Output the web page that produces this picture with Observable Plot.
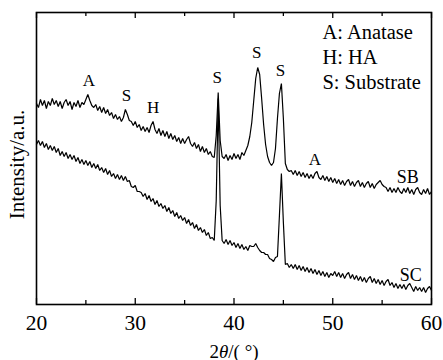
<!DOCTYPE html>
<html><head><meta charset="utf-8">
<script src="https://cdn.jsdelivr.net/npm/d3@7"></script>
<script src="https://cdn.jsdelivr.net/npm/@observablehq/plot@0.6"></script>
<style>
body{margin:0;background:#fff}
</style>
</head><body><div id="chart"></div>
<script>
// 2θ grid: 20° to 60° in 0.2° steps
const thetaStart = 20, thetaStep = 0.2;

// Sample SB intensity (a.u.), one group per degree (5 points each)
const sbIntensity = [
 201,197,205,199,204, 196,203,199,206,200, 204,198,203,196,202, 205,199,203,195,202,
 198,204,197,202,200, 205,210,204,199,197, 200,194,198,192,197, 191,195,189,192,186,
 190,185,188,183,187, 195,190,184,183,179, 183,177,180,174,178, 173,177,172,179,183,
 175,171,176,169,174, 168,173,166,171,165, 169,163,167,161,166, 161,165,168,161,158,
 162,156,160,153,158, 152,156,150,153,148, 147,169,212,164,148, 146,150,144,149,145,
 151,146,150,145,152, 149,154,159,168,182, 204,226,237,230,206, 180,160,148,142,139,
 142,156,186,211,221, 186,141,135,133,134, 130,134,129,133,128, 132,127,131,126,130,
 126,131,133,127,125, 129,124,128,123,127, 122,126,121,125,120, 124,119,123,125,119,
 123,118,122,124,118, 122,117,121,123,117, 121,116,120,122,124, 120,118,117,113,117,
 112,116,112,117,113, 111,116,112,117,111, 115,110,115,117,112, 110,115,111,116,110,
 113
];

// Sample SC intensity (a.u.)
const scIntensity = [
 160,164,159,163,157, 161,155,159,154,158, 152,156,149,153,148, 152,146,150,145,149,
 143,147,141,145,140, 144,139,143,137,141, 136,140,134,137,132, 136,130,134,128,131,
 126,130,125,129,124, 128,123,124,118,117, 119,113,113,112,108, 111,105,109,103,106,
 100,104,98,101,96, 99,93,97,91,94, 88,92,86,89,84, 87,81,85,79,82,
 76,80,74,77,72, 75,69,72,66,67, 64,104,206,99,64, 61,65,60,64,59,
 62,57,61,56,60, 55,58,54,59,58, 58,61,57,54,52, 52,50,50,46,45,
 43,47,48,89,131, 82,40,41,37,40, 36,40,35,39,34, 38,33,37,32,36,
 31,35,30,34,29, 33,28,32,27,31, 29,33,28,32,27, 31,26,30,32,26,
 30,25,29,24,28, 23,27,22,26,28, 22,26,21,25,20, 24,19,23,25,19,
 22,17,21,16,20, 16,20,15,19,21, 17,13,18,14,17, 13,17,12,16,18,
 14
];

const xTicks = [20, 30, 40, 50, 60];
const xMinorTicks = [25, 35, 45, 55];

// Phase labels above peaks
const peakLabels = ["A", "S", "H", "S", "S", "S", "A"];
const peakX      = [25.3, 29.1, 31.8, 38.3, 42.3, 44.7, 48.2];
const peakY      = [219, 204, 192, 222, 247, 229, 140];

// Sample labels
const sampleLabels = ["SB", "SC"];
const sampleX      = [57.6, 57.9];
const sampleY      = [122, 24];

// Legend of phases
const legendLines = ["A: Anatase", "H: HA", "S: Substrate"];
const legendX     = [48.95, 48.95, 48.95];
const legendY     = [266, 241, 216];

const toRows = (arr, name) => arr.map((v, i) => ({theta: +(thetaStart + i * thetaStep).toFixed(1), I: v, sample: name}));
const rows = [...toRows(sbIntensity, "SB"), ...toRows(scIntensity, "SC")];

const peaks = peakLabels.map((t, i) => ({t, x: peakX[i], y: peakY[i]}));
const samples = sampleLabels.map((t, i) => ({t, x: sampleX[i], y: sampleY[i]}));
const legend = legendLines.map((t, i) => ({t, x: legendX[i], y: legendY[i]}));

const serif = "Liberation Serif, Times New Roman, serif";
const yTop = 292;
const chart = Plot.plot({
  width: 443,
  height: 360,
  marginLeft: 36,
  marginRight: 12,
  marginTop: 12,
  marginBottom: 56,
  style: "font-family: 'Liberation Serif', 'Times New Roman', serif; background: white; color: black;",
  x: {domain: [20, 60], axis: null},
  y: {domain: [0, yTop], axis: null},
  marks: [
    Plot.line(rows, {x: "theta", y: "I", z: "sample", stroke: "black", strokeWidth: 1.2, strokeLinejoin: "miter"}),
    Plot.frame({stroke: "black", strokeWidth: 1.6}),
    // inward ticks bottom and top
    Plot.ruleX(xTicks, {x: d => d, y1: 0, y2: 6, stroke: "black", strokeWidth: 1.3}),
    Plot.ruleX(xMinorTicks, {x: d => d, y1: 0, y2: 4, stroke: "black", strokeWidth: 1.3}),
    Plot.ruleX(xTicks, {x: d => d, y1: yTop, y2: yTop - 6, stroke: "black", strokeWidth: 1.3}),
    Plot.ruleX(xMinorTicks, {x: d => d, y1: yTop, y2: yTop - 4, stroke: "black", strokeWidth: 1.3}),
    // tick labels
    Plot.text(xTicks, {x: d => d, frameAnchor: "bottom", dy: 25, lineAnchor: "bottom", text: d => String(d), fontSize: 21.5, fontFamily: serif, fill: "black"}),
    // axis titles
    Plot.text(["2θ/( °)"], {x: 40, frameAnchor: "bottom", dy: 53, lineAnchor: "bottom", text: d => d, fontSize: 19, fontFamily: serif, fill: "black"}),
    Plot.text(["Intensity/a.u."], {frameAnchor: "left", dx: -19, dy: 6, rotate: -90, textAnchor: "middle", text: d => d, fontSize: 21, fontFamily: serif, fill: "black"}),
    // annotations
    Plot.text(peaks, {x: "x", y: "y", text: "t", lineAnchor: "bottom", fontSize: 17, fontFamily: serif, fill: "black"}),
    Plot.text(samples, {x: "x", y: "y", text: "t", lineAnchor: "bottom", fontSize: 18, fontFamily: serif, fill: "black"}),
    Plot.text(legend, {x: "x", y: "y", text: "t", lineAnchor: "bottom", textAnchor: "start", fontSize: 20.5, fontFamily: serif, fill: "black"})
  ]
});
document.getElementById("chart").appendChild(chart);
// italic θ in the x title
d3.select(chart).selectAll("text").each(function() {
  const el = d3.select(this);
  if (el.text() === "2θ/( °)") {
    el.text(null);
    el.append("tspan").text("2");
    el.append("tspan").attr("font-style", "italic").text("θ");
    el.append("tspan").text("/( °)");
  }
});
</script>
</body></html>
